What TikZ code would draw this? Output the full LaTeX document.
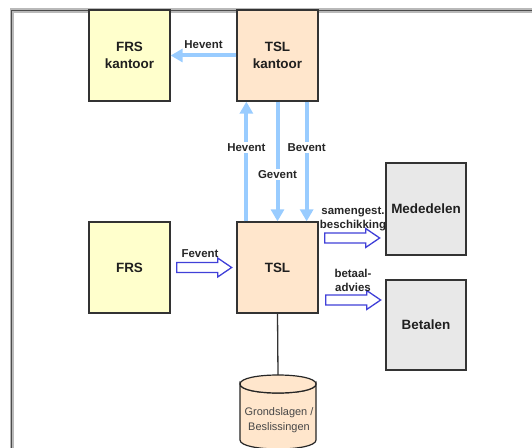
\documentclass[tikz,border=0pt]{standalone}
\usepackage{fontspec}
\setmainfont{Liberation Sans}
\usetikzlibrary{arrows.meta,calc}
\definecolor{yelfill}{HTML}{FFFFCC}
\definecolor{peach}{HTML}{FFE6CC}
\definecolor{greyfill}{HTML}{E8E8E8}
\definecolor{flowblue}{HTML}{99CCFF}
\definecolor{edgeblue}{HTML}{4040D8}
\definecolor{boxline}{HTML}{333333}

\tikzset{
  pics/blockarr/.style={code={
    \draw[hollowarrow] (0,-5) -- (41,-5) -- (41,-9.5) -- (55,0) -- (41,9.5) -- (41,5) -- (0,5) -- cycle;
  }}
}

\begin{document}
\begin{tikzpicture}[x=1bp,y=-1bp,
  box/.style={draw=boxline, line width=1.3bp, minimum width=81bp, minimum height=91bp,
    inner sep=0pt, align=center, font=\fontsize{13.5}{17}\selectfont\bfseries, text=black!88},
  flow/.style={draw=flowblue, line width=4bp, -{Triangle[length=12bp,width=13bp]}},
  lbl/.style={font=\fontsize{11.5}{14}\selectfont\bfseries, text=black!85, inner sep=1.5bp, align=center},
  hollowarrow/.style={draw=edgeblue, line width=1.3bp, fill=white, line join=miter},
  dbstyle/.style={draw=black!85, line width=1.2bp, fill=peach},
  link/.style={draw=boxline, line width=1.3bp}
]
\useasboundingbox (0,0) rectangle (532,448);
\clip (0,0) rectangle (532,448);

% page frame
\draw[gray!55, line width=5bp] (12,11) rectangle (700,700);
\draw[black!70, line width=1bp] (11.5,10.5) rectangle (700,700);
\draw[white, line width=0.8bp] (14,13) rectangle (700,700);

% boxes
\node[box, fill=yelfill] (frsk) at (129.5,55.5) {FRS\\kantoor};
\node[box, fill=peach]   (tslk) at (277.5,55.5) {TSL\\kantoor};
\node[box, fill=yelfill] (frs)  at (129.5,267.5) {FRS};
\node[box, fill=peach]   (tsl)  at (277.5,267.5) {TSL};
\node[box, fill=greyfill, minimum width=80bp, minimum height=92bp] (med) at (426,209) {Mededelen};
\node[box, fill=greyfill, minimum width=80bp, minimum height=90bp] (bet) at (426,325) {Betalen};

% event flows between the offices
\draw[flow] (tslk.west) -- node[lbl, above=3bp] (lhh) {Hevent} (frsk.east);
\draw[flow] ([xshift=10bp]tsl.north west) -- node[lbl, fill=white, pos=0.62] (lhv) {Hevent} ([xshift=10bp]tslk.south west);
\draw[flow] (tslk.south) -- node[lbl, fill=white, pos=0.61] (lgv) {Gevent} (tsl.north);
\draw[flow] ([xshift=-12bp]tslk.south east) -- node[lbl, fill=white, pos=0.38] (lbv) {Bevent} ([xshift=-12bp]tsl.north east);

% hollow message arrows
\pic at ($(frs.east)+(6,0)$) {blockarr};
\node[lbl] (lfe) at (200,254) {Fevent};
\pic at ($(tsl.east)+(6,-29.5)$) {blockarr};
\node[lbl] (lsb) at (353,219) {samengest.\\beschikking};
\pic at ($(tsl.east)+(7,32.5)$) {blockarr};
\node[lbl] (lba) at (353,280) {betaal-\\advies};

% data store
\coordinate (dbtop) at (278,375);
\draw[link] (tsl.south) -- (dbtop);
\draw[dbstyle] (240,384) -- (240,440)
  .. controls (240,452) and (316,452) .. (316,440) -- (316,384)
  .. controls (316,396) and (240,396) .. (240,384) -- cycle;
\draw[dbstyle] (240,384) .. controls (240,372) and (316,372) .. (316,384)
  .. controls (316,396) and (240,396) .. (240,384) -- cycle;
\node[font=\fontsize{11}{15}\selectfont, text=black!72, align=center, inner sep=0pt] (dbtxt) at (279,420.5) {Grondslagen /\\Beslissingen};
\end{tikzpicture}
\end{document}
